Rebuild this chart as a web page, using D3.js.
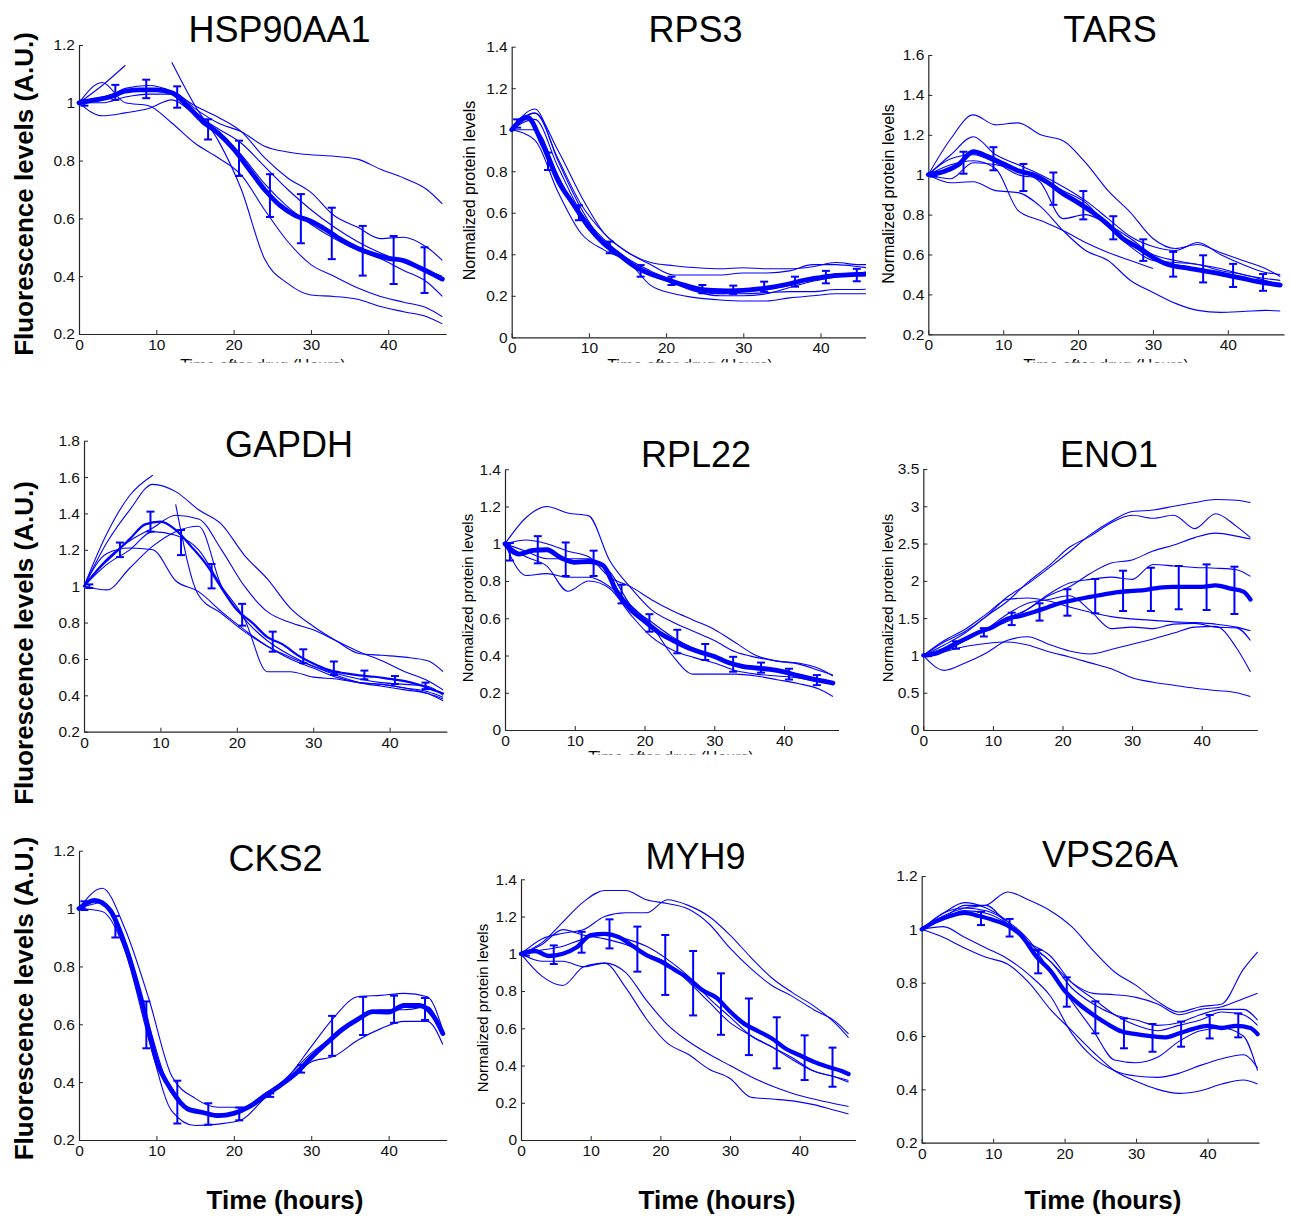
<!DOCTYPE html>
<html><head><meta charset="utf-8">
<script src="https://cdn.jsdelivr.net/npm/d3@7"></script>
<style>
body{margin:0;background:#fff}
svg{display:block}
text{font-family:"Liberation Sans",Arial,Helvetica,sans-serif}
</style>
</head><body>
<svg id="chart" width="1290" height="1216"></svg>
<script>
// ---------- time grids ----------
const timeMean  = [0,2,4,6,8,10,12,14,16,18,20,22,24,26,28,30,32,34,36,38,40,42,44,46,47];
const timeTrace = [0,3,6,9,12,15,18,21,24,27,30,33,36,39,42,45,47];
const timeErr   = [0.7,4.7,8.7,12.7,16.7,20.7,24.7,28.7,32.7,36.7,40.7,44.7];
const timeErrV  = [8.3,12.3,16.3,20.3,24.3,28.3,32.3,36.3,40.3,44.3];
const xTicks = [0,10,20,30,40];

// ---------- tick labels ----------
const yTicks02_12 = [0.2,0.4,0.6,0.8,1,1.2];
const yTicks0_14  = [0,0.2,0.4,0.6,0.8,1,1.2,1.4];
const yTicks02_16 = [0.2,0.4,0.6,0.8,1,1.2,1.4,1.6];
const yTicks02_18 = [0.2,0.4,0.6,0.8,1,1.2,1.4,1.6,1.8];
const yTicks0_35  = [0,0.5,1,1.5,2,2.5,3,3.5];

// ---------- HSP90AA1 ----------
const hspMean = [1.0,1.01,1.02,1.04,1.045,1.045,1.035,0.99,0.935,0.895,0.84,0.77,0.70,0.645,0.61,0.59,0.56,0.525,0.497,0.477,0.462,0.454,0.43,0.404,0.39];
const hspErrMid  = [1.0,1.036,1.048,1.02,0.908,0.808,0.679,0.599,0.548,0.488,0.456,0.421];
const hspErrHalf = [0.01,0.026,0.032,0.037,0.035,0.061,0.074,0.085,0.089,0.086,0.083,0.079];
const hspTraces = [
  [1.0,1.02,1.04,1.04,1.04,0.98,0.93,0.9,0.85,0.83,0.82,0.815,0.805,0.77,0.74,0.70,0.65],
  [1.0,1.01,1.05,1.06,1.04,0.99,0.95,0.9,0.81,0.74,0.69,0.61,0.57,0.53,0.535,0.5,0.455],
  [1.0,1.0,1.02,1.03,1.03,0.97,0.9,0.82,0.72,0.64,0.58,0.53,0.49,0.46,0.42,0.38,0.33],
  [1.0,1.07,1.0,0.99,0.93,0.86,0.81,0.75,0.63,0.52,0.44,0.40,0.36,0.33,0.31,0.29,0.26],
  [null,null,null,null,1.14,0.99,0.87,0.70,0.46,0.375,0.335,0.33,0.32,0.295,0.277,0.26,0.235],
  [1.0,1.06,1.13,null,null,null,null,null,null,null,null,null,null,null,null,null,null],
  [1.0,0.955,0.965,0.98,1.01,0.96,0.91,0.86,0.78,0.70,0.63,0.57,0.52,0.48,0.45,0.42,0.40]
];

// ---------- RPS3 ----------
const rpsMean = [1.0,1.06,0.93,0.755,0.64,0.53,0.45,0.395,0.34,0.305,0.28,0.255,0.235,0.226,0.224,0.226,0.233,0.243,0.258,0.276,0.288,0.298,0.302,0.305,0.31];
const rpsErrMid  = [1.03,0.848,0.60,0.433,0.32,0.272,0.232,0.229,0.244,0.268,0.29,0.30];
const rpsErrHalf = [0.02,0.042,0.036,0.028,0.028,0.02,0.02,0.02,0.024,0.024,0.03,0.03];
const rpsTraces = [
  [1.0,1.08,0.9,0.68,0.5,0.41,0.36,0.345,0.335,0.33,0.335,0.33,0.33,0.34,0.36,0.35,0.35],
  [1.0,1.08,0.86,0.64,0.5,0.41,0.35,0.3,0.3,0.3,0.31,0.31,0.32,0.35,0.35,0.34,0.33],
  [1.0,0.95,0.7,0.5,0.42,0.37,0.3,0.26,0.22,0.21,0.21,0.215,0.22,0.22,0.23,0.23,0.24],
  [1.0,1.0,0.78,0.57,0.44,0.37,0.25,0.21,0.19,0.18,0.175,0.175,0.19,0.2,0.21,0.21,0.21],
  [1.0,1.05,0.82,0.6,0.47,0.38,0.32,0.27,0.22,0.2,0.2,0.21,0.24,0.27,0.29,0.3,0.31],
  [1.0,1.1,0.85,0.62,0.45,0.36,0.3,0.27,0.23,0.21,0.22,0.23,0.25,0.28,0.3,0.31,0.32]
];

// ---------- TARS ----------
const tarsMean = [1.0,1.015,1.05,1.115,1.09,1.055,1.02,1.0,0.96,0.905,0.86,0.81,0.75,0.68,0.635,0.585,0.55,0.535,0.523,0.51,0.495,0.48,0.464,0.452,0.447];
const tarsErrMid  = [1.0,1.06,1.08,0.986,0.93,0.847,0.734,0.622,0.551,0.528,0.495,0.46];
const tarsErrHalf = [0.01,0.055,0.058,0.068,0.081,0.071,0.058,0.054,0.062,0.068,0.058,0.042];
const tarsTraces = [
  [1.0,1.18,1.30,1.25,1.26,1.2,1.17,1.06,0.92,0.81,0.68,0.63,0.65,0.61,0.57,0.53,0.49],
  [1.0,1.1,1.19,1.1,1.05,1.0,0.94,0.87,0.78,0.69,0.64,0.62,0.66,0.6,0.55,0.51,0.50],
  [1.0,1.05,1.07,1.03,0.82,0.77,0.72,0.66,0.61,0.57,0.53,null,null,null,null,null,null],
  [1.0,0.96,0.965,0.92,0.91,0.84,0.72,0.62,0.57,0.47,0.41,0.355,0.32,0.31,0.314,0.32,0.317],
  [1.0,0.98,1.06,1.05,1.02,0.96,0.78,0.8,0.75,0.68,0.6,0.57,0.55,0.53,0.5,0.48,0.47],
  [1.0,1.08,1.1,1.06,1.0,0.98,0.92,0.86,0.74,0.64,0.57,0.56,0.55,0.52,0.5,0.47,0.45]
];

// ---------- GAPDH ----------
const gapdhMean = [1.0,1.1,1.18,1.26,1.34,1.355,1.31,1.22,1.12,0.99,0.87,0.80,0.72,0.68,0.62,0.575,0.54,0.522,0.51,0.502,0.49,0.478,0.456,0.425,0.41];
const gapdhErrMid  = [1.0,1.2,1.355,1.24,1.055,0.843,0.695,0.615,0.549,0.512,0.484,0.452];
const gapdhErrHalf = [0.01,0.04,0.055,0.069,0.067,0.06,0.055,0.038,0.037,0.024,0.022,0.018];
const gapdhTraces = [
  [1.0,1.29,1.5,1.61,null,null,null,null,null,null,null,null,null,null,null,null,null],
  [null,null,null,null,1.45,0.95,0.85,0.75,0.67,0.6,0.55,0.5,0.47,0.46,0.44,0.41,0.37],
  [1.0,1.24,1.42,1.56,1.52,1.42,1.34,1.17,1.04,0.88,0.78,0.7,0.63,0.62,0.61,0.59,0.53],
  [1.0,1.15,1.25,1.32,1.39,1.37,1.2,1.0,0.86,0.8,0.76,0.7,0.64,0.59,0.53,0.48,0.43],
  [1.0,1.18,1.21,1.2,1.03,0.97,0.86,0.76,0.67,0.61,0.56,0.51,0.47,0.45,0.43,0.41,0.38],
  [1.0,0.98,1.1,1.22,1.3,1.33,1.0,0.82,0.7,0.62,0.56,0.52,0.49,0.47,0.46,0.45,0.4],
  [1.0,1.12,1.2,1.3,1.28,1.2,1.0,0.82,0.53,0.53,0.5,0.49,0.47,0.46,0.44,0.42,0.39]
];

// ---------- RPL22 ----------
const rplMean = [1.0,0.945,0.965,0.968,0.925,0.9,0.905,0.885,0.745,0.648,0.585,0.525,0.483,0.445,0.418,0.395,0.362,0.342,0.333,0.326,0.312,0.292,0.275,0.26,0.252];
const rplErrMid  = [0.957,0.968,0.917,0.895,0.73,0.575,0.475,0.419,0.353,0.335,0.3,0.268];
const rplErrHalf = [0.047,0.073,0.09,0.068,0.05,0.047,0.063,0.043,0.04,0.027,0.029,0.027];
const rplTraces = [
  [1.0,1.14,1.2,1.165,1.15,0.91,0.765,0.645,0.58,0.53,0.48,0.42,0.39,0.37,0.355,0.32,0.295],
  [1.0,0.83,0.84,0.82,0.82,0.77,0.67,0.56,0.4,0.3,0.3,0.3,0.29,0.27,0.25,0.22,0.18],
  [1.0,0.93,0.88,0.745,0.8,0.76,0.62,0.5,0.43,0.39,0.36,0.32,0.3,0.29,0.28,0.26,0.25],
  [1.0,1.02,1.0,0.96,0.93,0.82,0.77,0.7,0.64,0.59,0.54,0.47,0.4,0.37,0.36,0.33,0.29],
  [1.0,0.96,0.92,0.92,0.92,0.85,0.67,0.58,0.5,0.44,0.4,0.35,0.34,0.32,0.3,0.27,0.26]
];

// ---------- ENO1 ----------
const enoMean = [1.0,1.03,1.13,1.22,1.31,1.38,1.49,1.53,1.585,1.65,1.71,1.75,1.785,1.82,1.85,1.865,1.88,1.91,1.92,1.92,1.92,1.94,1.9,1.855,1.75];
const enoErrMid  = [1.0,1.14,1.31,1.49,1.583,1.71,1.795,1.866,1.886,1.909,1.915,1.873];
const enoErrHalf = [0.01,0.05,0.056,0.083,0.116,0.177,0.23,0.27,0.29,0.29,0.306,0.317];
const enoTraces = [
  [1.0,1.18,1.32,1.52,1.78,1.96,2.17,2.39,2.62,2.8,2.93,2.95,3.0,3.05,3.09,3.08,3.05],
  [1.0,1.14,1.3,1.52,1.72,1.98,2.2,2.45,2.6,2.78,2.88,2.84,2.88,2.7,2.9,2.73,2.58],
  [1.0,1.1,1.2,1.35,1.45,1.62,1.8,1.92,2.1,2.24,2.28,2.4,2.48,2.58,2.64,2.6,2.56],
  [1.0,1.08,1.22,1.35,1.5,1.62,1.82,1.97,2.02,2.05,2.02,2.22,2.2,2.18,2.17,2.15,2.06],
  [1.0,1.2,1.35,1.55,1.75,1.77,1.73,1.65,1.58,1.52,1.49,1.47,1.45,1.44,1.42,1.38,1.33],
  [1.0,1.05,1.2,1.35,1.55,1.7,1.75,1.8,1.6,1.36,1.38,1.36,1.42,1.43,1.38,1.37,1.2],
  [1.0,0.8,0.9,1.03,1.2,1.25,1.15,1.06,1.02,1.08,1.15,1.22,1.3,1.38,1.39,1.1,0.78],
  [1.0,1.05,1.12,1.16,1.18,1.14,1.05,0.98,0.9,0.82,0.7,0.64,0.6,0.56,0.53,0.5,0.45]
];

// ---------- CKS2 ----------
const cksMean = [1.0,1.028,0.995,0.87,0.69,0.476,0.37,0.308,0.295,0.284,0.292,0.315,0.352,0.389,0.43,0.485,0.535,0.582,0.617,0.644,0.642,0.665,0.665,0.62,0.568];
const cksErrMid  = [1.01,0.937,0.598,0.331,0.29,0.29,0.355,0.446,0.56,0.629,0.652,0.653];
const cksErrHalf = [0.015,0.037,0.081,0.074,0.037,0.022,0.006,0.013,0.069,0.066,0.047,0.038];
const cksTraces = [
  [1.0,1.07,0.926,0.69,0.42,0.344,0.313,0.313,0.361,0.419,0.523,0.626,0.695,0.7,0.707,0.695,0.58],
  [1.0,0.99,0.85,0.55,0.3,0.25,0.255,0.27,0.345,0.41,0.47,0.49,0.545,0.585,0.61,0.61,0.53],
  [1.0,1.02,0.87,0.6,0.36,0.3,0.29,0.3,0.35,0.42,0.5,0.56,0.62,0.65,0.65,0.66,0.56]
];

// ---------- MYH9 ----------
const myhMean = [1.0,1.015,0.988,1.0,1.035,1.1,1.107,1.09,1.043,0.993,0.96,0.915,0.868,0.805,0.765,0.69,0.625,0.585,0.545,0.49,0.455,0.42,0.393,0.37,0.354];
const myhErrMid  = [1.0,0.995,1.062,1.107,1.025,0.94,0.842,0.73,0.608,0.522,0.442,0.391];
const myhErrHalf = [0.01,0.05,0.056,0.078,0.121,0.161,0.173,0.165,0.152,0.137,0.12,0.105];
const myhTraces = [
  [1.0,1.06,1.17,1.28,1.34,1.34,1.29,1.27,1.24,1.16,1.03,0.92,0.83,0.77,0.7,0.64,0.57],
  [1.0,1.08,1.11,1.13,1.2,1.22,1.22,1.29,1.26,1.2,1.1,0.98,0.87,0.79,0.72,0.63,0.55],
  [1.0,1.02,1.04,1.08,1.1,1.08,1.04,0.97,0.88,0.76,0.66,0.56,0.5,0.44,0.37,0.34,0.31],
  [1.0,0.88,0.83,0.93,0.95,0.9,0.75,0.62,0.53,0.46,0.4,0.34,0.29,0.25,0.22,0.195,0.18],
  [1.0,0.96,0.96,0.93,0.95,0.82,0.65,0.52,0.46,0.38,0.33,0.23,0.22,0.21,0.19,0.16,0.14],
  [1.0,1.05,1.13,1.1,1.08,1.05,1.0,0.95,0.85,0.74,0.63,0.56,0.5,0.43,0.37,0.34,0.32]
];

// ---------- VPS26A ----------
const vpsMean = [1.0,1.03,1.05,1.062,1.05,1.035,1.015,0.975,0.9,0.845,0.77,0.72,0.68,0.645,0.617,0.607,0.6,0.595,0.61,0.627,0.638,0.63,0.638,0.63,0.607];
const vpsErrMid  = [1.041,1.006,0.879,0.765,0.67,0.61,0.593,0.607,0.635,0.64];
const vpsErrHalf = [0.025,0.033,0.044,0.055,0.06,0.056,0.052,0.047,0.044,0.045];
const vpsTraces = [
  [1.0,1.05,1.08,1.09,1.14,1.11,1.07,1.01,0.92,0.84,0.79,0.73,0.69,0.71,0.72,0.85,0.915],
  [1.0,1.04,1.07,1.06,1.02,0.95,0.88,0.8,0.76,0.755,0.745,0.72,0.68,0.7,0.71,0.74,0.76],
  [1.0,1.06,1.1,1.08,1.03,0.94,0.88,0.78,0.72,0.68,0.66,0.64,0.65,0.68,0.7,0.7,0.66],
  [1.0,1.06,1.08,1.07,1.03,0.96,0.84,0.73,0.62,0.51,0.5,0.52,0.58,0.62,0.63,0.6,0.47],
  [1.0,1.01,0.97,0.93,0.89,0.83,0.75,0.61,0.52,0.47,0.45,0.445,0.46,0.49,0.515,0.53,0.48],
  [1.0,0.97,0.93,0.895,0.87,0.8,0.7,0.62,0.54,0.47,0.43,0.4,0.385,0.395,0.42,0.435,0.42],
  [1.0,1.04,1.09,1.09,1.02,0.95,0.9,0.8,0.74,0.68,0.64,0.62,0.64,0.66,0.69,0.68,0.64]
];

// ---------- layout ----------
const BLUE = "#0000ff";
const AXIS = "#262626";
const panels = [
  {title:"HSP90AA1", mean:hspMean, traces:hspTraces, errT:timeErr, errMid:hspErrMid, errHalf:hspErrHalf,
   x0:79, x1:446.2, xMax:47.5, yTop:45, yBot:334, yDom:[0.2,1.2], yTicks:yTicks02_12, tx:279.5, ty:42, meanW:4.8},
  {title:"RPS3", mean:rpsMean, traces:rpsTraces, errT:timeErr, errMid:rpsErrMid, errHalf:rpsErrHalf,
   x0:511.7, x1:878.4, xMax:47.5, yTop:46.7, yBot:337.3, yDom:[0,1.4], yTicks:yTicks0_14, tx:695.5, ty:42, meanW:4.8, clipRight:866},
  {title:"TARS", mean:tarsMean, traces:tarsTraces, errT:timeErr, errMid:tarsErrMid, errHalf:tarsErrHalf,
   x0:928.3, x1:1284, xMax:47.5, yTop:55, yBot:334.3, yDom:[0.2,1.6], yTicks:yTicks02_16, tx:1110, ty:42, meanW:4.8},
  {title:"GAPDH", mean:gapdhMean, traces:gapdhTraces, errT:timeErr, errMid:gapdhErrMid, errHalf:gapdhErrHalf,
   x0:84, x1:446.9, xMax:47.5, yTop:440.7, yBot:731.7, yDom:[0.2,1.8], yTicks:yTicks02_18, tx:289, ty:456.5, meanW:2.2},
  {title:"RPL22", mean:rplMean, traces:rplTraces, errT:timeErr, errMid:rplErrMid, errHalf:rplErrHalf,
   x0:505, x1:838.5, xMax:47.8, yTop:469.3, yBot:730, yDom:[0,1.4], yTicks:yTicks0_14, tx:696, ty:466.5, meanW:4.8},
  {title:"ENO1", mean:enoMean, traces:enoTraces, errT:timeErr, errMid:enoErrMid, errHalf:enoErrHalf,
   x0:923.3, x1:1257.4, xMax:48, yTop:469, yBot:730, yDom:[0,3.5], yTicks:yTicks0_35, tx:1109, ty:466.5, meanW:4.3},
  {title:"CKS2", mean:cksMean, traces:cksTraces, errT:timeErr, errMid:cksErrMid, errHalf:cksErrHalf,
   x0:79, x1:446.7, xMax:47.5, yTop:850.7, yBot:1140, yDom:[0.2,1.2], yTicks:yTicks02_12, tx:275.6, ty:870.5, meanW:4.8},
  {title:"MYH9", mean:myhMean, traces:myhTraces, errT:timeErr, errMid:myhErrMid, errHalf:myhErrHalf,
   x0:521, x1:855.5, xMax:48, yTop:879.3, yBot:1140, yDom:[0,1.4], yTicks:yTicks0_14, tx:695.5, ty:869.3, meanW:4.3},
  {title:"VPS26A", mean:vpsMean, traces:vpsTraces, errT:timeErrV, errMid:vpsErrMid, errHalf:vpsErrHalf,
   x0:921.7, x1:1259, xMax:47.2, yTop:876, yBot:1142.7, yDom:[0.2,1.2], yTicks:yTicks02_12, tx:1110, ty:866.7, meanW:4.3}
];

const svg = d3.select("#chart");
const defs = svg.append("defs");
const fmt = v => String(+v.toFixed(1));

panels.forEach((p, k) => {
  const x = d3.scaleLinear().domain([0, p.xMax]).range([p.x0, p.x1]);
  const y = d3.scaleLinear().domain(p.yDom).range([p.yBot, p.yTop]);
  const cid = "clip" + k;
  defs.append("clipPath").attr("id", cid).append("rect")
    .attr("x", 0).attr("y", 0).attr("width", p.clipRight || 1290).attr("height", 1216);
  const g = svg.append("g").attr("clip-path", `url(#${cid})`);

  // x axis
  const gx = g.append("g").attr("transform", `translate(0,${p.yBot})`)
    .call(d3.axisBottom(x).tickValues(xTicks).tickSize(-4).tickSizeOuter(0).tickPadding(5).tickFormat(d3.format("d")));
  // y axis
  const gy = g.append("g").attr("transform", `translate(${p.x0},0)`)
    .call(d3.axisLeft(y).tickValues(p.yTicks).tickSize(-4).tickSizeOuter(0).tickPadding(4).tickFormat(fmt));
  [gx, gy].forEach(a => {
    a.attr("font-size", null).attr("font-family", null);
    a.select(".domain").attr("stroke", AXIS).attr("stroke-width", 1.2);
    a.selectAll(".tick line").attr("stroke", AXIS);
    a.selectAll(".tick text").attr("fill", "#111").style("font-size", "15.5px")
      .style("font-family", '"Liberation Sans",Arial,Helvetica,sans-serif');
  });

  const line = d3.line().defined(d => d[1] != null)
    .x(d => x(d[0])).y(d => y(d[1])).curve(d3.curveMonotoneX);

  // thin single-cell traces
  g.append("g").selectAll("path").data(p.traces).join("path")
    .attr("d", tr => line(timeTrace.map((t, i) => [t, tr[i]])))
    .attr("fill", "none").attr("stroke", BLUE).attr("stroke-width", 1.1);

  // mean trace
  g.append("path").attr("d", line(timeMean.map((t, i) => [t, p.mean[i]])))
    .attr("fill", "none").attr("stroke", BLUE).attr("stroke-width", p.meanW)
    .attr("stroke-linejoin", "round").attr("stroke-linecap", "round");

  // error bars
  const eb = g.append("g").attr("stroke", BLUE).attr("stroke-width", 2).attr("fill", "none");
  p.errT.forEach((t, i) => {
    const cx = x(t), lo = y(p.errMid[i] - p.errHalf[i]), hi = y(p.errMid[i] + p.errHalf[i]);
    eb.append("line").attr("x1", cx).attr("x2", cx).attr("y1", lo).attr("y2", hi);
    eb.append("line").attr("x1", cx - 4).attr("x2", cx + 4).attr("y1", lo).attr("y2", lo);
    eb.append("line").attr("x1", cx - 4).attr("x2", cx + 4).attr("y1", hi).attr("y2", hi);
  });

  // title
  svg.append("text").attr("x", p.tx).attr("y", p.ty).attr("text-anchor", "middle")
    .attr("font-size", 36).attr("fill", "#000").text(p.title);
});

// big y labels (left column)
[194, 643, 998.5].forEach(cy => {
  svg.append("text").attr("transform", `translate(33,${cy}) rotate(-90)`)
    .attr("text-anchor", "middle").attr("font-size", 26).attr("font-weight", "bold")
    .attr("fill", "#000").text("Fluorescence levels (A.U.)");
});

// small y labels
[[474.5,190.5,16],[893.5,194,16],[473,598,15],[893,598,15],[488,1008,15]].forEach(([bx, cy, fs]) => {
  svg.append("text").attr("transform", `translate(${bx},${cy}) rotate(-90)`)
    .attr("text-anchor", "middle").attr("font-size", fs).attr("fill", "#000")
    .text("Normalized protein levels");
});

// cut-off x labels (only their tops are visible)
defs.append("clipPath").attr("id", "cutRow1").append("rect").attr("x", 0).attr("y", 352).attr("width", 1290).attr("height", 10.5);
defs.append("clipPath").attr("id", "cutRow2").append("rect").attr("x", 0).attr("y", 745).attr("width", 1290).attr("height", 9.5);
[[263,371,"cutRow1"],[690,371,"cutRow1"],[1106,371,"cutRow1"],[671,762.5,"cutRow2"]].forEach(([cx, by, c]) => {
  svg.append("g").attr("clip-path", `url(#${c})`).append("text")
    .attr("x", cx).attr("y", by).attr("text-anchor", "middle").attr("font-size", 16)
    .attr("fill", "#000").text("Time after drug (Hours)");
});

// bottom x labels
[285, 717, 1103].forEach(cx => {
  svg.append("text").attr("x", cx).attr("y", 1209).attr("text-anchor", "middle")
    .attr("font-size", 26).attr("font-weight", "bold").attr("fill", "#000").text("Time (hours)");
});
</script>
</body></html>
